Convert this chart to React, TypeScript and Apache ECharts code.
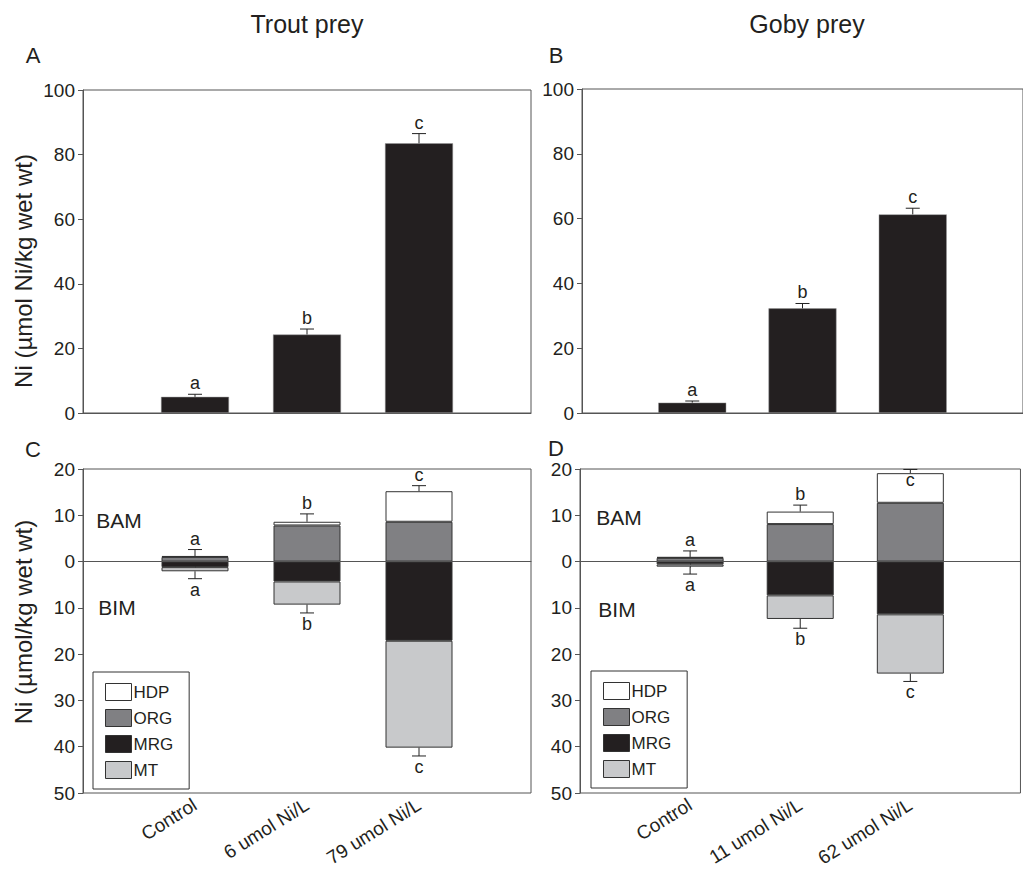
import React, { useEffect, useRef } from "react";
import * as echarts from "echarts";

// ---------- data ----------
// category slots: 0 and 4 are empty padding slots, bars sit on 1..3
const xPositions = [1, 2, 3];
const troutCategories = ["", "Control", "6 umol Ni/L", "79 umol Ni/L", ""];
const gobyCategories = ["", "Control", "11 umol Ni/L", "62 umol Ni/L", ""];

// Panels A / B : total Ni
const troutTotal = [5.0, 24.3, 83.5];
const troutTotalErr = [5.8, 26.0, 86.5];
const troutTotalLetters = ["a", "b", "c"];
const gobyTotal = [3.2, 32.3, 61.3];
const gobyTotalErr = [3.7, 33.8, 63.2];
const gobyTotalLetters = ["a", "b", "c"];

// Panel C : trout fractions (BAM positive, BIM negative)
const troutHDP = [0.2, 0.8, 6.6];
const troutORG = [1.0, 7.8, 8.6];
const troutMRG = [-1.2, -4.3, -17.1];
const troutMT = [-0.9, -5.0, -23.1];
const troutBAMErr = [2.6, 10.3, 16.4];
const troutBIMErr = [-3.7, -11.1, -42.0];
const troutBAMLetters = ["a", "b", "c"];
const troutBIMLetters = ["a", "b", "c"];
const troutBAMLetterSide = ["top", "top", "top"];

// Panel D : goby fractions
const gobyHDP = [0.2, 2.7, 6.4];
const gobyORG = [0.8, 8.1, 12.7];
const gobyMRG = [-0.6, -7.3, -11.4];
const gobyMT = [-0.5, -5.1, -12.8];
const gobyBAMErr = [2.3, 12.2, 19.9];
const gobyBIMErr = [-2.7, -14.4, -25.9];
const gobyBAMLetters = ["a", "b", "c"];
const gobyBIMLetters = ["a", "b", "c"];
const gobyBAMLetterSide = ["top", "top", "bottom"];

const topTicks = [0, 100, 20];
const bottomTicks = [-50, 20, 10];

// ---------- style ----------
const FONT = "'Liberation Sans', Arial, sans-serif";
const TXT = "#231f20";
const AXIS = "#555";
const COLORS: Record<string, string> = {
  HDP: "#ffffff",
  ORG: "#808083",
  MRG: "#231f20",
  MT: "#c8c9cb",
};

function errSeries(ax: number, base: number[], err: number[]) {
  return {
    type: "custom",
    xAxisIndex: ax,
    yAxisIndex: ax,
    z: 6,
    silent: true,
    data: xPositions.map((x, i) => [x, base[i], err[i]]),
    renderItem: (_p: any, api: any) => {
      const p0 = api.coord([api.value(0), api.value(1)]);
      const p1 = api.coord([api.value(0), api.value(2)]);
      return {
        type: "group",
        children: [
          { type: "line", shape: { x1: p0[0], y1: p0[1], x2: p1[0], y2: p1[1] }, style: { stroke: "#222", lineWidth: 1 } },
          { type: "line", shape: { x1: p1[0] - 7, y1: p1[1], x2: p1[0] + 7, y2: p1[1] }, style: { stroke: "#222", lineWidth: 1 } },
        ],
      };
    },
  };
}

function letterSeries(ax: number, yv: number[], letters: string[], sides: string[]) {
  return {
    type: "custom",
    xAxisIndex: ax,
    yAxisIndex: ax,
    z: 7,
    silent: true,
    data: xPositions.map((x, i) => [x, yv[i]]),
    renderItem: (params: any, api: any) => {
      const p = api.coord([api.value(0), api.value(1)]);
      const i = params.dataIndex;
      const side = sides[i];
      return {
        type: "text",
        x: p[0],
        y: side === "top" ? p[1] - 2 : p[1] + 2,
        style: {
          text: letters[i],
          fill: TXT,
          font: `18px ${FONT}`,
          textAlign: "center",
          textVerticalAlign: side === "top" ? "bottom" : "top",
        },
      };
    },
  };
}

function stackBar(ax: number, name: string, vals: number[], stack: string, extra: any = {}) {
  return {
    type: "bar",
    name,
    xAxisIndex: ax,
    yAxisIndex: ax,
    stack,
    barWidth: 67,
    data: xPositions.map((x, i) => [x, vals[i]]),
    itemStyle: { color: COLORS[name], borderColor: "#333", borderWidth: 1 },
    ...extra,
  };
}

const zeroLine = {
  silent: true,
  symbol: "none",
  label: { show: false },
  lineStyle: { color: AXIS, width: 1, type: "solid" },
  data: [{ yAxis: 0 }],
};

const slotShown = (i: number) => i >= 1 && i <= 3;

function xAxisCfg(grid: number, cats: string[], showLabels: boolean) {
  return {
    type: "category",
    gridIndex: grid,
    data: cats,
    boundaryGap: false,
    splitLine: { show: false },
    axisLine: { show: true, lineStyle: { color: AXIS } },
    axisTick: showLabels
      ? { show: true, interval: (i: number) => slotShown(i), length: 6, lineStyle: { color: AXIS } }
      : { show: false },
    axisLabel: showLabels
      ? {
          show: true,
          interval: 0,
          rotate: 32,
          margin: 10,
          color: TXT,
          fontFamily: FONT,
          fontSize: 19,
        }
      : { show: false },
  };
}

function yAxisCfg(grid: number, ticks: number[]) {
  return {
    type: "value",
    gridIndex: grid,
    min: ticks[0],
    max: ticks[1],
    interval: ticks[2],
    splitLine: { show: false },
    axisLine: { show: true, onZero: false, lineStyle: { color: AXIS } },
    axisTick: { show: true, inside: false, length: 5, lineStyle: { color: AXIS } },
    axisLabel: {
      color: TXT,
      fontFamily: FONT,
      fontSize: 19,
      margin: 8,
      formatter: (v: number) => String(Math.abs(v)),
    },
  };
}

function legendCfg(left: number, top: number) {
  return {
    left,
    top,
    orient: "vertical",
    data: ["HDP", "ORG", "MRG", "MT"],
    icon: "rect",
    itemWidth: 26,
    itemHeight: 17,
    itemGap: 8,
    padding: [11, 16, 10, 12],
    borderColor: "#333",
    borderWidth: 1,
    backgroundColor: "#fff",
    selectedMode: false,
    itemStyle: { borderColor: "#333", borderWidth: 1 },
    textStyle: { color: TXT, fontFamily: FONT, fontSize: 17, padding: [0, 0, 0, -3] },
  };
}

function txt(text: string, x: number, y: number, size: number, rotation = 0) {
  return {
    type: "text",
    x,
    y,
    rotation,
    style: {
      text,
      fill: TXT,
      font: `${size}px ${FONT}`,
      textAlign: "center",
      textVerticalAlign: "middle",
    },
  };
}

const sum = (a: number[], b: number[]) => a.map((v, i) => v + b[i]);

export default function App() {
  const ref = useRef<HTMLDivElement>(null);

  useEffect(() => {
    if (!ref.current) return;
    const chart = echarts.init(ref.current, null, { renderer: "svg" });
    const option: any = {
      animation: false,
      backgroundColor: "#fff",
      grid: [
        { left: 83, top: 90, width: 448, height: 323, show: true, borderColor: AXIS, borderWidth: 1 },
        { left: 582, top: 89, width: 454, height: 324, show: true, borderColor: AXIS, borderWidth: 1 },
        { left: 83, top: 469, width: 448, height: 324, show: true, borderColor: AXIS, borderWidth: 1 },
        { left: 580, top: 469, width: 454, height: 324, show: true, borderColor: AXIS, borderWidth: 1 },
      ],
      xAxis: [
        xAxisCfg(0, troutCategories, false),
        xAxisCfg(1, gobyCategories, false),
        xAxisCfg(2, troutCategories, true),
        xAxisCfg(3, gobyCategories, true),
      ],
      yAxis: [yAxisCfg(0, topTicks), yAxisCfg(1, topTicks), yAxisCfg(2, bottomTicks), yAxisCfg(3, bottomTicks)],
      legend: [legendCfg(93, 672), legendCfg(591, 671)],
      series: [
        // Panel A
        {
          type: "bar",
          name: "Total trout",
          xAxisIndex: 0,
          yAxisIndex: 0,
          barWidth: 68,
          data: xPositions.map((x, i) => [x, troutTotal[i]]),
          itemStyle: { color: "#231f20", borderColor: "#999", borderWidth: 0.5 },
        },
        errSeries(0, troutTotal, troutTotalErr),
        letterSeries(0, troutTotalErr, troutTotalLetters, ["top", "top", "top"]),
        // Panel B
        {
          type: "bar",
          name: "Total goby",
          xAxisIndex: 1,
          yAxisIndex: 1,
          barWidth: 68,
          data: xPositions.map((x, i) => [x, gobyTotal[i]]),
          itemStyle: { color: "#231f20", borderColor: "#999", borderWidth: 0.5 },
        },
        errSeries(1, gobyTotal, gobyTotalErr),
        letterSeries(1, gobyTotalErr, gobyTotalLetters, ["top", "top", "top"]),
        // Panel C
        stackBar(2, "ORG", troutORG, "C", { markLine: zeroLine }),
        stackBar(2, "MRG", troutMRG, "C"),
        stackBar(2, "HDP", troutHDP, "C"),
        stackBar(2, "MT", troutMT, "C"),
        errSeries(2, sum(troutORG, troutHDP), troutBAMErr),
        errSeries(2, sum(troutMRG, troutMT), troutBIMErr),
        letterSeries(2, troutBAMErr, troutBAMLetters, troutBAMLetterSide),
        letterSeries(2, troutBIMErr, troutBIMLetters, ["bottom", "bottom", "bottom"]),
        // Panel D
        stackBar(3, "ORG", gobyORG, "D", { markLine: zeroLine }),
        stackBar(3, "MRG", gobyMRG, "D"),
        stackBar(3, "HDP", gobyHDP, "D"),
        stackBar(3, "MT", gobyMT, "D"),
        errSeries(3, sum(gobyORG, gobyHDP), gobyBAMErr),
        errSeries(3, sum(gobyMRG, gobyMT), gobyBIMErr),
        letterSeries(3, gobyBAMErr, gobyBAMLetters, gobyBAMLetterSide),
        letterSeries(3, gobyBIMErr, gobyBIMLetters, ["bottom", "bottom", "bottom"]),
      ],
      graphic: [
        txt("Trout prey", 307, 24, 25),
        txt("Goby prey", 807, 24, 25),
        txt("A", 33, 55, 22),
        txt("B", 556, 55, 22),
        txt("C", 33, 449, 22),
        txt("D", 556, 448, 22),
        txt("BAM", 119, 520, 21),
        txt("BIM", 117, 607, 21),
        txt("BAM", 619, 517, 21),
        txt("BIM", 617, 609, 21),
        txt("Ni (\u00b5mol Ni/kg wet wt)", 23, 271, 24, Math.PI / 2),
        txt("Ni (\u00b5mol/kg wet wt)", 23, 622, 24, Math.PI / 2),
      ],
    };
    chart.setOption(option);
    return () => chart.dispose();
  }, []);

  return (
    <div
      ref={ref}
      style={{ position: "fixed", left: 0, top: 0, width: 1023, height: 873, background: "#fff" }}
    />
  );
}
